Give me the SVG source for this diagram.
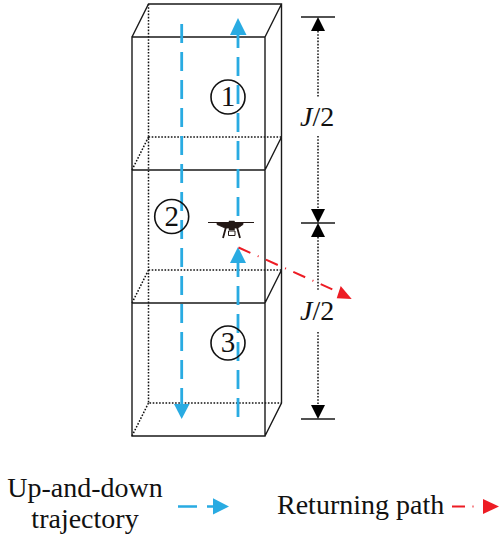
<svg xmlns="http://www.w3.org/2000/svg" width="500" height="542" viewBox="0 0 500 542">
<style>
.s{fill:none;stroke:#1a1a1a;stroke-width:1.4}
.d{fill:none;stroke:#111;stroke-width:1.5;stroke-dasharray:1.6 1.6}
.b{fill:none;stroke:#29abe2;stroke-width:2.8;stroke-dasharray:19 9}
.r{fill:none;stroke:#ed1c24;stroke-width:2;stroke-dasharray:13 8 1 8}
.af{fill:#29abe2}.rf{fill:#ed1c24}.k{fill:#000}
.t{font-family:"Liberation Serif","Times New Roman",serif;font-size:28px;fill:#111}
.c{font-family:"Liberation Serif","Times New Roman",serif;font-size:29px;fill:#111;text-anchor:middle}
.n{fill:none;stroke:#111;stroke-width:1.6}
</style>
<rect width="500" height="542" fill="#fff"/>
<g id="box">
<path class="d" d="M148.500 4V403H281.500M148.500 137H281.500M148.500 270H281.500M132 170L148.500 137M132 303L148.500 270M132 436L148.500 403"/>
<path class="s" d="M132 37H265V436H132ZM132 170H265M132 303H265M132 37L148.500 4H281.500V403L265 436M265 37L281.500 4M265 170L281.500 137M265 303L281.500 270"/>
</g>
<g id="connectors">
<path class="b" d="M181.700 24V405"/>
<polygon class="af" points="174,404 189.500,404 181.700,419"/>
<path class="b" d="M238 417V262"/>
<path class="b" d="M238 216V34"/>
<polygon class="af" points="230,35 246.500,35 238,18"/>
<polygon class="af" points="230,263 246,263 238,247"/>
<path class="r" d="M238.500 247.500L332.300 289.300"/>
<polygon class="rf" points="340.700,286 351.700,299 336.700,298.300"/>
<path class="d" d="M318 31V97M318 136V209M318 237V291M318 332V405"/>
<path class="s" d="M301 17H335M301 223H335M301 419H335"/>
<polygon class="k" points="318,17 311,31 325,31"/>
<polygon class="k" points="318,223 311,209 325,209"/>
<polygon class="k" points="318,223 311,237 325,237"/>
<polygon class="k" points="318,419 311,405 325,405"/>
</g>
<g id="drone" fill="#231815" stroke="#231815">
<path d="M208 222.500H254" stroke-width="1" fill="none"/>
<path d="M217 222.500H243V224.500L238 228H225L217 224.500Z" stroke-width=".8"/>
<path d="M229 221H234.500V230H229Z" stroke-width=".5"/>
<path d="M226 227L223 238M237 227L240 238" stroke-width="1.8" fill="none"/>
<path d="M228.500 231V235.500H235V231Z" stroke-width="1" fill="none"/>
</g>
<g id="zone1"><circle class="n" cx="228" cy="97" r="17"/><text class="c" x="228" y="106">1</text></g>
<g id="zone2"><circle class="n" cx="171.700" cy="216.500" r="17"/><text class="c" x="171.700" y="225.500">2</text></g>
<g id="zone3"><circle class="n" cx="228" cy="343" r="17"/><text class="c" x="228" y="352">3</text></g>
<g id="dim1"><text class="t" x="300" y="126"><tspan font-style="italic">J</tspan>/2</text></g>
<g id="dim2"><text class="t" x="300" y="320"><tspan font-style="italic">J</tspan>/2</text></g>
<g id="legend">
<text class="t" x="85" y="497" text-anchor="middle">Up-and-down</text>
<text class="t" x="85" y="528" text-anchor="middle">trajectory</text>
<path fill="none" stroke="#29abe2" stroke-width="2.6" d="M178 506.500H197M207 506.500H216"/>
<polygon class="af" points="213,498.300 229,506.500 213,514.500"/>
<text class="t" x="277" y="514">Returning path</text>
<path fill="none" stroke="#ed1c24" stroke-width="2" d="M452 506.500H465M472.500 506.500H473.500"/>
<polygon class="rf" points="483,499 499,506.500 483,514"/>
</g>
</svg>
